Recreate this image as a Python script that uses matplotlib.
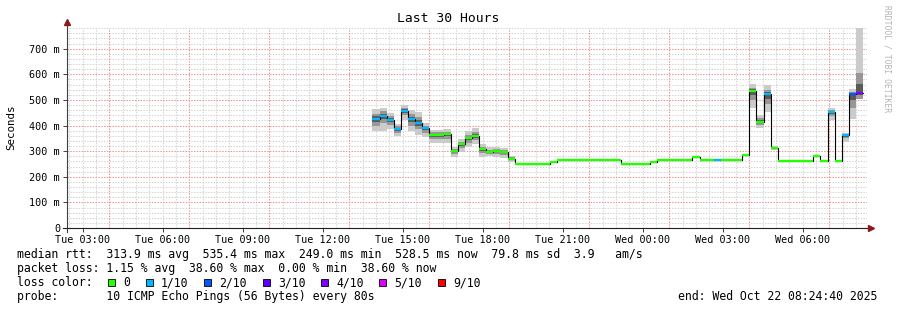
import numpy as np
import matplotlib
matplotlib.use("Agg")
import matplotlib.pyplot as plt
from matplotlib.patches import Rectangle

# --- data (median rtt in ms per 16 min step, starting Tue 13:52) ---
early_med = [427, 439, 423, 387, 457, 426, 411, 391, 362, 363,
             366, 302, 327, 350, 359, 307, 298, 301, 298, 270]
early_lo = [379, 379, 385, 359, 422, 379, 363, 354, 331, 331,
            331, 279, 298, 315, 327, 279, 282, 279, 272, 259]
early_hi = [465, 470, 448, 405, 480, 461, 454, 409, 383, 383,
            385, 318, 346, 379, 389, 327, 315, 315, 314, 282]
early_clo = [400, 410, 402, 372, 440, 400, 385, 372, 346, 346,
             348, 290, 312, 332, 342, 293, 290, 290, 285, 264]
early_chi = [447, 455, 437, 397, 470, 445, 432, 400, 373, 373,
             376, 310, 337, 365, 374, 317, 306, 308, 306, 276]
early_loss = [1, 1, 1, 1, 1, 1, 1, 1, 0, 0, 0, 0, 0, 0, 0, 0, 0, 0, 0, 0]

# quiet stretch, no visible smoke
flat_med = [250, 250, 250, 250, 250, 256, 264, 264, 264, 264, 264,
            264, 264, 264, 267, 251, 251, 251, 251, 258, 264, 264,
            264, 264, 264, 277, 264, 264, 264, 264, 264, 264, 285]
flat_loss = [0, 0, 0, 0, 0, 0, 0, 0, 0, 0, 0, 0, 0, 0, 0, 0, 0,
             0, 0, 0, 0, 0, 0, 0, 0, 0, 0, 0, 1, 0, 0, 0, 0]

late_med = [536, 414, 522, 312, 263, 263, 263, 263, 263, 280, 263, 453, 263, 363, 523, 528.5]
late_lo = [470, 392, 454, 305, 263, 263, 263, 263, 263, 280, 263, 422, 263, 336, 426, 504]
late_hi = [562, 441, 558, 322, 263, 263, 263, 263, 263, 280, 263, 470, 263, 370, 542, 780]
late_clo = [500, 402, 485, 308, 263, 263, 263, 263, 263, 280, 263, 438, 263, 350, 470, 504]
late_chi = [548, 428, 540, 317, 263, 263, 263, 263, 263, 280, 263, 462, 263, 366, 532, 604]
late_loss = [0, 0, 1, 0, 0, 0, 0, 0, 0, 0, 0, 1, 0, 1, 2, 4]

median_ms = np.array(early_med + flat_med + late_med, dtype=float)
smoke_lo = np.array(early_lo + flat_med + late_lo, dtype=float)
smoke_hi = np.array(early_hi + flat_med + late_hi, dtype=float)
core_lo = np.array(early_clo + flat_med + late_clo, dtype=float)
core_hi = np.array(early_chi + flat_med + late_chi, dtype=float)
loss_idx = early_loss + flat_loss + late_loss

loss_labels = ["0", "1/10", "2/10", "3/10", "4/10", "5/10", "9/10"]
loss_colors = ["#26ff00", "#00b8ff", "#0059ff", "#5e00ff", "#7e00ff", "#dd00ff", "#ff0000"]

# time axis in hours since Tue 00:00
t_start = 2 + 24 / 60 + 40 / 3600      # Tue 02:24:40
t_end = t_start + 30
step = 16 / 60
t = 13 + 52 / 60 + np.arange(len(median_ms)) * step

# --- figure ---
W, H = 897, 310
fig = plt.figure(figsize=(W / 100, H / 100), dpi=100)
fig.patch.set_facecolor("white")
ax = fig.add_axes([67 / W, 1 - 228 / H, 800 / W, 200 / H])
ax.set_xlim(t_start, t_end)
ax.set_ylim(0, 781)
for s in ax.spines.values():
    s.set_visible(False)

mono = "DejaVu Sans Mono"
dot = (0, (1.35, 1.35))

# grid
for h in np.arange(2.5, 32.5, 0.5):
    if (h - 1) % 3 == 0:
        ax.axvline(h, color="#f09090", lw=0.75, ls=dot, zorder=0.5)
    else:
        ax.axvline(h, color="#d4d4d4", lw=0.75, ls=dot, zorder=0)
for v in range(20, 781, 20):
    if v % 100 == 0:
        ax.axhline(v, color="#f09090", lw=0.75, ls=dot, zorder=0.5)
    else:
        ax.axhline(v, color="#d4d4d4", lw=0.75, ls=dot, zorder=0)

# smoke
ax.bar(t, smoke_hi - smoke_lo, bottom=smoke_lo, width=step, align="edge",
       color="#cbcbcb", linewidth=0, zorder=1)
ax.bar(t, core_hi - core_lo, bottom=core_lo, width=step, align="edge",
       color="#979797", linewidth=0, zorder=1)
dark_lo = median_ms - 0.45 * (median_ms - core_lo)
dark_hi = median_ms + 0.45 * (core_hi - median_ms)
ax.bar(t, dark_hi - dark_lo, bottom=dark_lo, width=step, align="edge",
       color="#5a5a5a", linewidth=0, zorder=1)

# median line
ax.step(np.append(t, t[-1] + step), np.append(median_ms, median_ms[-1]),
        where="post", color="black", lw=0.8, zorder=2)
ax.hlines(median_ms, t, t + step, colors=[loss_colors[i] for i in loss_idx],
          lw=1.7, capstyle="butt", zorder=3)

# axes lines with arrows
ax.plot([0, 0], [-0.02, 1.02], transform=ax.transAxes, color="#404040",
        lw=0.8, clip_on=False, zorder=4)
ax.plot([-0.005, 1.003], [0, 0], transform=ax.transAxes, color="#202020",
        lw=0.8, clip_on=False, zorder=4)
ax.plot([0], [1.03], marker="^", ms=4, color="#8b1a1a", transform=ax.transAxes,
        clip_on=False, zorder=5)
ax.plot([1.005], [0], marker=">", ms=4, color="#8b1a1a", transform=ax.transAxes,
        clip_on=False, zorder=5)

# ticks
yt = list(range(0, 701, 100))
ax.set_yticks(yt)
ax.set_yticklabels(["0"] + [f"{v} m" for v in yt[1:]], family=mono, fontsize=7.3)
xt = list(range(3, 31, 3))
ax.set_xticks(xt)
ax.set_xticklabels([f"{'Tue' if h < 24 else 'Wed'} {h % 24:02d}:00" for h in xt],
                   family=mono, fontsize=7.3)
ax.tick_params(axis="both", length=3, width=0.7, color="#404040", direction="out",
               pad=2)

# texts
fig.text(448 / W, 1 - 19 / H, "Last 30 Hours", ha="center", va="center",
         family=mono, fontsize=9.4)
fig.text(11 / W, 1 - 127 / H, "Seconds", rotation=90, ha="center", va="center",
         family=mono, fontsize=7.8)
fig.text(887 / W, 1 - 5 / H, "RRDTOOL / TOBI OETIKER", rotation=270, ha="center",
         va="top", family=mono, fontsize=5.8, color="#b4b4b4")

x0 = 16.5
cw = 6.95
fs = 8.3
lines = [
    (254.5, "median rtt:  313.9 ms avg  535.4 ms max  249.0 ms min  528.5 ms now  79.8 ms sd  3.9   am/s"),
    (268.5, "packet loss: 1.15 % avg  38.60 % max  0.00 % min  38.60 % now"),
    (282.5, "loss color:"),
    (296.5, "probe:       10 ICMP Echo Pings (56 Bytes) every 80s"),
]
for y, txt in lines:
    fig.text(x0 / W, 1 - y / H, txt, ha="left", va="center", family=mono, fontsize=fs)

col = 13.0
for lbl, c in zip(loss_labels, loss_colors):
    bx = x0 + col * cw + 1.5
    fig.patches.append(Rectangle((bx / W, 1 - 286 / H), 7 / W, 7 / H, facecolor=c,
                                 edgecolor="black", lw=0.6, transform=fig.transFigure))
    fig.text((x0 + (col + 2.4) * cw) / W, 1 - 282.5 / H, lbl, ha="left", va="center",
             family=mono, fontsize=fs)
    col += 2.4 + len(lbl) + 2

fig.text(678 / W, 1 - 296.5 / H, "end: Wed Oct 22 08:24:40 2025", ha="left",
         va="center", family=mono, fontsize=fs)

fig.savefig("out.png", dpi=100)
